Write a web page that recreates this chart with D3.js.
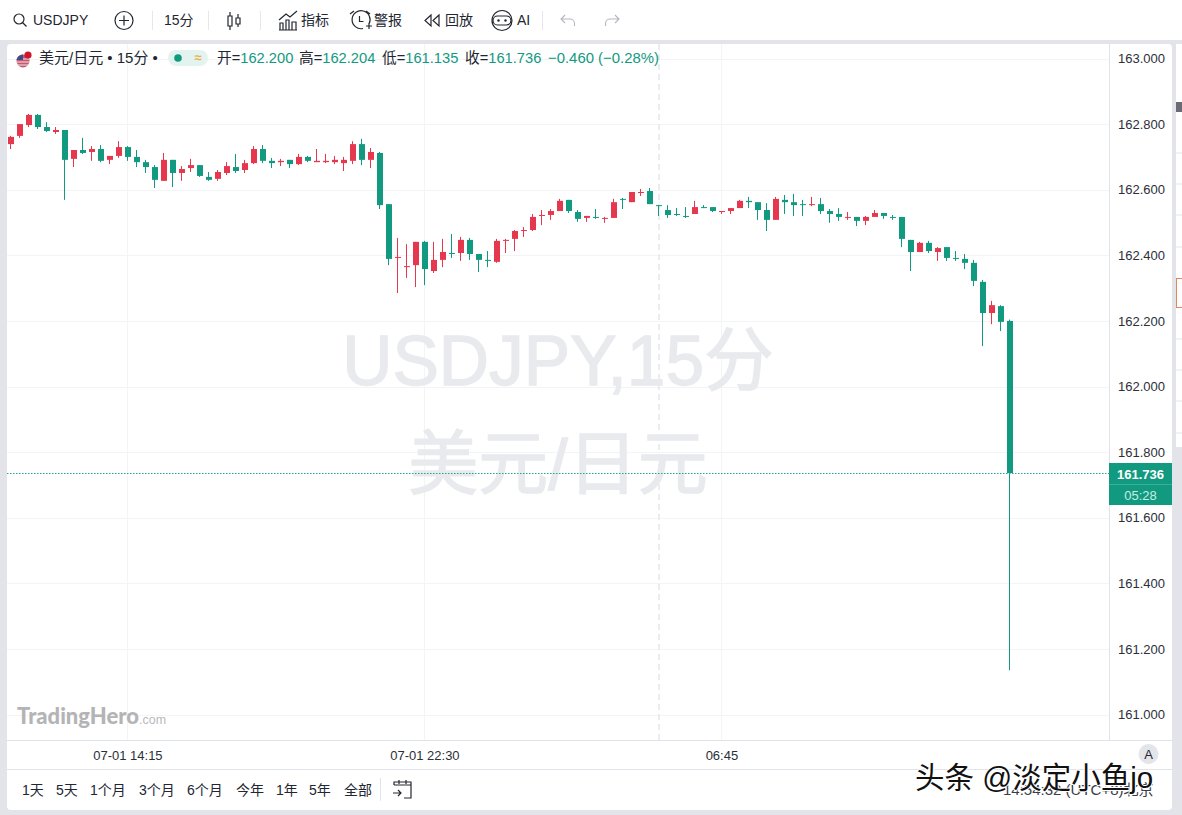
<!DOCTYPE html>
<html lang="zh">
<head>
<meta charset="utf-8">
<title>USDJPY 15分</title>
<script src="https://cdn.jsdelivr.net/npm/d3@7/dist/d3.min.js"></script>
<style>
  html, body { margin: 0; padding: 0; background: #e3e4e9; overflow: hidden; }
  svg { display: block; font-family: "Liberation Sans", "Noto Sans CJK SC", sans-serif; }
</style>
</head>
<body>
<svg id="chart" width="1182" height="815"></svg>
<script>
// 15-minute USD/JPY candles, oldest first
const opens = [162.739,162.764,162.797,162.828,162.791,162.776,162.782,162.694,162.721,162.715,162.724,162.691,162.703,162.730,162.700,162.684,162.669,162.627,162.691,162.651,162.666,162.675,162.639,162.633,162.651,162.669,162.660,162.681,162.724,162.688,162.684,162.691,162.678,162.700,162.684,162.684,162.684,162.681,162.688,162.739,162.691,162.712,162.556,162.392,162.364,162.370,162.441,162.352,162.386,162.407,162.407,162.447,162.404,162.386,162.380,162.444,162.450,162.474,162.477,162.520,162.523,162.535,162.569,162.532,162.514,162.517,162.511,162.514,162.572,162.562,162.590,162.596,162.553,162.538,162.526,162.520,162.526,162.547,162.547,162.532,162.535,162.544,162.566,162.562,162.538,162.508,162.569,162.562,162.556,162.553,162.556,162.535,162.526,162.514,162.517,162.505,162.517,162.529,162.517,162.517,162.447,162.410,162.438,162.410,162.425,162.392,162.389,162.377,162.319,162.224,162.245,162.200];
const highs = [162.764,162.800,162.831,162.831,162.806,162.791,162.782,162.721,162.758,162.733,162.736,162.703,162.748,162.733,162.721,162.691,162.675,162.712,162.691,162.672,162.694,162.675,162.654,162.660,162.684,162.709,162.691,162.733,162.736,162.697,162.694,162.691,162.709,162.703,162.724,162.709,162.703,162.700,162.748,162.755,162.727,162.715,162.556,162.453,162.434,162.441,162.444,162.441,162.450,162.465,162.456,162.453,162.404,162.413,162.450,162.450,162.477,162.486,162.526,162.538,162.541,162.572,162.569,162.538,162.520,162.541,162.517,162.572,162.575,162.593,162.602,162.605,162.553,162.553,162.544,162.547,162.566,162.553,162.547,162.535,162.544,162.569,162.578,162.562,162.559,162.578,162.584,162.587,162.569,162.578,162.575,162.541,162.544,162.532,162.517,162.520,162.538,162.529,162.523,162.517,162.447,162.441,162.444,162.425,162.425,162.413,162.404,162.386,162.325,162.261,162.248,162.204];
const lows = [162.724,162.758,162.791,162.785,162.776,162.770,162.569,162.669,162.709,162.688,162.684,162.678,162.697,162.688,162.669,162.651,162.605,162.627,162.608,162.627,162.654,162.639,162.627,162.627,162.645,162.651,162.651,162.678,162.681,162.666,162.672,162.666,162.675,162.684,162.684,162.681,162.678,162.657,162.678,162.675,162.666,162.541,162.370,162.285,162.331,162.303,162.309,162.346,162.364,162.392,162.383,162.386,162.349,162.364,162.377,162.407,162.413,162.456,162.474,162.492,162.508,162.535,162.529,162.502,162.502,162.511,162.499,162.514,162.541,162.562,162.581,162.556,162.520,162.514,162.520,162.514,162.526,162.544,162.532,162.526,162.526,162.544,162.544,162.508,162.474,162.508,162.526,162.520,162.520,162.550,162.526,162.499,162.505,162.508,162.489,162.492,162.517,162.511,162.508,162.425,162.352,162.410,162.407,162.383,162.383,162.383,162.358,162.306,162.123,162.190,162.169,161.135];
const closes = [162.761,162.800,162.828,162.791,162.779,162.782,162.691,162.721,162.712,162.724,162.688,162.703,162.730,162.700,162.684,162.669,162.630,162.691,162.651,162.663,162.675,162.642,162.630,162.654,162.672,162.657,162.681,162.724,162.688,162.681,162.688,162.678,162.700,162.688,162.688,162.688,162.691,162.691,162.739,162.691,162.715,162.553,162.389,162.395,162.367,162.441,162.358,162.386,162.410,162.404,162.447,162.404,162.386,162.383,162.444,162.447,162.474,162.477,162.517,162.523,162.535,162.566,162.535,162.511,162.520,162.514,162.514,162.562,162.569,162.593,162.593,162.556,162.550,162.523,162.523,162.517,162.547,162.544,162.535,162.535,162.544,162.566,162.562,162.538,162.508,162.572,162.562,162.553,162.553,162.556,162.535,162.526,162.517,162.517,162.505,162.517,162.529,162.520,162.514,162.450,162.410,162.438,162.413,162.422,162.392,162.389,162.377,162.322,162.224,162.248,162.197,161.736];

const priceTicks = [163, 162.8, 162.6, 162.4, 162.2, 162, 161.8, 161.6, 161.4, 161.2, 161];
const timeTickBars = [13, 46, 79];
const timeTickLabels = ["07-01 14:15", "07-01 22:30", "06:45"];
const rangeLabels = ["1天", "5天", "1个月", "3个月", "6个月", "今年", "1年", "5年", "全部"];
const rangeOffsets = [22, 56, 90, 139, 187, 236, 276, 309, 344];
const crosshairBar = 72;
const lastChange = -0.460;
const lastChangePct = -0.28;
const countdown = "05:28";

const UP = "#e5384f", DOWN = "#129a80", INK = "#222630", GRID = "#f3f4f6", RULE = "#e0e3ea";

const svg = d3.select("#chart");
const y = d3.scaleLinear().domain([163, 161]).range([58.5, 714.5]);
const x = d3.scaleLinear().domain([0, 111]).range([10.4, 1009.4]);
const pane = { left: 7, right: 1109, top: 44, bottom: 740 };

// Shell: toolbar, chart card and the clipped neighbouring panel
svg.append("rect").attr("width", 1182).attr("height", 815).attr("fill", "#e3e4e9");
svg.append("rect").attr("width", 1182).attr("height", 40).attr("fill", "#fff");
svg.append("rect").attr("x", 7).attr("y", 44).attr("width", 1165).attr("height", 766).attr("rx", 4).attr("fill", "#fff");
svg.append("rect").attr("x", 1176).attr("y", 44).attr("width", 6).attr("height", 403).attr("fill", "#fff");

const side = svg.append("g");
side.append("rect").attr("x", 1176).attr("y", 102).attr("width", 6).attr("height", 10).attr("fill", "#6a6b75");
[153, 184, 215, 247, 339, 370, 401, 433].forEach(v =>
  side.append("line").attr("x1", 1176).attr("x2", 1182).attr("y1", v).attr("y2", v).attr("stroke", "#e3e5ea"));
side.append("rect").attr("x", 1176.5).attr("y", 278.5).attr("width", 8).attr("height", 29)
  .attr("fill", "none").attr("stroke", "#e0855c");

// Gridlines
const grid = svg.append("g");
grid.selectAll("line.h").data(priceTicks).join("line").attr("class", "h")
  .attr("x1", pane.left).attr("x2", pane.right)
  .attr("y1", d => Math.round(y(d)) + 0.5).attr("y2", d => Math.round(y(d)) + 0.5)
  .attr("stroke", GRID);
grid.selectAll("line.v").data(timeTickBars).join("line").attr("class", "v")
  .attr("x1", d => Math.round(x(d)) + 0.5).attr("x2", d => Math.round(x(d)) + 0.5)
  .attr("y1", pane.top).attr("y2", pane.bottom)
  .attr("stroke", GRID);
grid.append("line")
  .attr("x1", Math.round(x(crosshairBar)) + 1).attr("x2", Math.round(x(crosshairBar)) + 1)
  .attr("y1", pane.top).attr("y2", pane.bottom)
  .attr("stroke", "#ebecf0").attr("stroke-width", 2).attr("stroke-dasharray", "6 4");

// Symbol watermark
const wm = svg.append("g").attr("fill", "#e9eaee").attr("stroke", "#e9eaee").attr("stroke-width", 1.4).attr("text-anchor", "middle");
wm.append("text").attr("x", 558).attr("y", 385).attr("font-size", 69.5).text("USDJPY,15分");
wm.append("text").attr("x", 558).attr("y", 489).attr("font-size", 70).text("美元/日元");

// Candles, snapped to the pixel grid so wicks stay crisp
const bars = d3.range(opens.length).map(i => ({ i, o: opens[i], h: highs[i], l: lows[i], c: closes[i] }));
const colour = d => d.c >= d.o ? UP : DOWN;
const candles = svg.append("g");
candles.selectAll("line").data(bars).join("line")
  .attr("x1", d => Math.floor(x(d.i)) + 0.5).attr("x2", d => Math.floor(x(d.i)) + 0.5)
  .attr("y1", d => y(d.h)).attr("y2", d => y(d.l))
  .attr("stroke", colour).attr("stroke-width", 1);
candles.selectAll("rect").data(bars).join("rect")
  .attr("x", d => Math.floor(x(d.i)) - 2)
  .attr("y", d => y(Math.max(d.o, d.c)))
  .attr("width", 6)
  .attr("height", d => Math.max(1, Math.abs(y(d.o) - y(d.c))))
  .attr("fill", colour);

// Last price line
const last = bars[bars.length - 1];
svg.append("line")
  .attr("x1", pane.left).attr("x2", pane.right)
  .attr("y1", Math.round(y(last.c)) + 0.5).attr("y2", Math.round(y(last.c)) + 0.5)
  .attr("stroke", "#1fa58b").attr("stroke-dasharray", "1.5 1.5");

// Axes
svg.append("line").attr("x1", pane.right + 0.5).attr("x2", pane.right + 0.5)
  .attr("y1", pane.top).attr("y2", pane.bottom).attr("stroke", RULE);
svg.append("line").attr("x1", pane.left).attr("x2", 1172)
  .attr("y1", pane.bottom + 0.5).attr("y2", pane.bottom + 0.5).attr("stroke", RULE);
svg.append("line").attr("x1", pane.left).attr("x2", 1172)
  .attr("y1", 769.5).attr("y2", 769.5).attr("stroke", RULE);

const priceAxis = d3.axisRight(y).tickValues(priceTicks).tickSize(0).tickPadding(9).tickFormat(d3.format(".3f"));
svg.append("g").attr("transform", `translate(${pane.right},0)`).call(priceAxis)
  .call(g => g.select(".domain").remove())
  .call(g => g.selectAll("text").attr("font-size", 13).attr("font-family", "inherit").attr("fill", "#2b2f38"));

const timeAxis = d3.axisBottom(x).tickValues(timeTickBars).tickSize(0).tickPadding(11)
  .tickFormat(d => timeTickLabels[timeTickBars.indexOf(d)]);
svg.append("g").attr("transform", `translate(0,${pane.bottom})`).call(timeAxis)
  .call(g => g.select(".domain").remove())
  .call(g => g.selectAll("text").attr("font-size", 13).attr("font-family", "inherit").attr("fill", "#2b2f38"));

// Countdown tag on the price scale
const tag = svg.append("g");
tag.append("rect").attr("x", 1109).attr("y", 463).attr("width", 63).attr("height", 42).attr("fill", DOWN);
tag.append("line").attr("x1", 1109).attr("x2", 1172).attr("y1", 484.5).attr("y2", 484.5).attr("stroke", "#3aae97");
tag.append("text").attr("x", 1140.5).attr("y", 478.5).attr("text-anchor", "middle")
  .attr("font-size", 13).attr("font-weight", 700).attr("fill", "#fff").text(last.c.toFixed(3));
tag.append("text").attr("x", 1140.5).attr("y", 499.5).attr("text-anchor", "middle")
  .attr("font-size", 13).attr("fill", "#c4ede4").text(countdown);

// Legend row
const flag = svg.append("g");
flag.append("circle").attr("cx", 23).attr("cy", 61).attr("r", 6.5).attr("fill", "#c9566a");
flag.append("path").attr("d", "M17 59h12M16.5 62h13M18 65h10").attr("stroke", "#e9e9f0").attr("stroke-width", 1);
flag.append("path").attr("d", "M16.5 60a6.5 6.5 0 0 1 6.5-5.500v5.500z").attr("fill", "#3f4a8c");
flag.append("circle").attr("cx", 28).attr("cy", 55).attr("r", 3.6).attr("fill", "#d0142c");

const legendY = 63;
svg.append("text").attr("x", 39).attr("y", legendY).attr("font-size", 15).attr("fill", INK).text("美元/日元 • 15分 •");
svg.append("rect").attr("x", 168).attr("y", 50).attr("width", 40).attr("height", 16).attr("rx", 8).attr("fill", "#e3f4f0");
svg.append("circle").attr("cx", 178).attr("cy", 58).attr("r", 3.8).attr("fill", DOWN);
svg.append("text").attr("x", 198).attr("y", 62).attr("text-anchor", "middle").attr("font-size", 13)
  .attr("font-weight", 700).attr("fill", "#e8b04a").text("≈");

const ohlcLegend = [
  ["开=", last.o, 217], ["高=", last.h, 299], ["低=", last.l, 382], ["收=", last.c, 465]
];
ohlcLegend.forEach(([label, value, left]) => {
  const t = svg.append("text").attr("x", left).attr("y", legendY).attr("font-size", 14.7);
  t.append("tspan").attr("fill", INK).text(label);
  t.append("tspan").attr("fill", DOWN).text(value.toFixed(3));
});
svg.append("text").attr("x", 548).attr("y", legendY).attr("font-size", 14.9).attr("fill", DOWN)
  .text(`−${Math.abs(lastChange).toFixed(3)} (−${Math.abs(lastChangePct).toFixed(2)}%)`);

// Toolbar
const bar = svg.append("g").attr("fill", INK).attr("font-size", 14);
const stroke = { fill: "none", stroke: INK, "stroke-width": 1.2 };
const ink = sel => { Object.entries(stroke).forEach(([k, v]) => sel.attr(k, v)); return sel; };
ink(bar.append("circle").attr("cx", 19).attr("cy", 19).attr("r", 5));
ink(bar.append("path").attr("d", "M22.500 22.500l4 4"));
bar.append("text").attr("x", 33).attr("y", 25).text("USDJPY");
ink(bar.append("circle").attr("cx", 124).attr("cy", 20.500).attr("r", 9));
ink(bar.append("path").attr("d", "M124 15.500v10M119 20.500h10"));
[152, 208, 260, 542].forEach(v =>
  bar.append("line").attr("x1", v + 0.5).attr("x2", v + 0.5).attr("y1", 11).attr("y2", 30).attr("stroke", "#e6e7ec"));
bar.append("text").attr("x", 164).attr("y", 25).text("15分");
ink(bar.append("path").attr("d", "M228 16h4v10h-4zM230 12v4M230 26v4M236 18h4v6h-4zM238 14v4M238 24v3"));
ink(bar.append("path").attr("d", "M279 30h18M280 30v-7h3v7M286 30v-10h3v10M292 30v-8h4v8M279 20l7-6 4 3 7-6"));
bar.append("text").attr("x", 301).attr("y", 25).text("指标");
ink(bar.append("path").attr("d", "M369 24a9 9 0 1 0-6 4.500M359.500 16v5.500h4M350 14l4-3M366 11l4 3M366 26h6M369 23v6"));
bar.append("text").attr("x", 374).attr("y", 25).text("警报");
ink(bar.append("path").attr("d", "M431 15l-6 5.500 6 5.500zM439 15l-6 5.500 6 5.500z"));
bar.append("text").attr("x", 445).attr("y", 25).text("回放");
ink(bar.append("circle").attr("cx", 502).attr("cy", 20.500).attr("r", 10));
ink(bar.append("rect").attr("x", 493).attr("y", 16).attr("width", 18).attr("height", 9).attr("rx", 4.500));
bar.append("circle").attr("cx", 498.500).attr("cy", 20.500).attr("r", 1.200);
bar.append("circle").attr("cx", 505.500).attr("cy", 20.500).attr("r", 1.200);
bar.append("text").attr("x", 517).attr("y", 25).text("AI");
bar.append("path").attr("d", "M565 15l-4 4 4 4M561 19h9a4.500 4.500 0 0 1 4.500 4.500v2.500")
  .attr("fill", "none").attr("stroke", "#b5b7bf").attr("stroke-width", 1.100);
bar.append("path").attr("d", "M615 15l4 4-4 4M619 19h-9a4.500 4.500 0 0 0-4.500 4.500v2.500")
  .attr("fill", "none").attr("stroke", "#b5b7bf").attr("stroke-width", 1.100);

// Provider logo
const logo = svg.append("text").attr("x", 17).attr("y", 724);
logo.append("tspan").attr("font-family", "Lato, sans-serif").attr("font-size", 22).attr("font-weight", 900).attr("fill", "#b4b4b6").text("TradingHero");
logo.append("tspan").attr("font-size", 12.5).attr("fill", "#b9b9bc").text(".com");

// Range buttons
svg.append("g").selectAll("text").data(rangeLabels).join("text")
  .attr("x", (d, i) => rangeOffsets[i]).attr("y", 795)
  .attr("font-size", 14).attr("fill", INK).text(d => d);
svg.append("line").attr("x1", 380.500).attr("x2", 380.500).attr("y1", 778).attr("y2", 801).attr("stroke", "#e3e5ea");
svg.append("path").attr("d", "M394 785v-3h17v16h-7M394 785h17M399 780v4M406 780v4M393 793h8M398 790l3 3-3 3")
  .attr("fill", "none").attr("stroke", INK).attr("stroke-width", 1.200);

// Auto-scale button
svg.append("circle").attr("cx", 1148.5).attr("cy", 754).attr("r", 10).attr("fill", "#e3e5ea");
svg.append("text").attr("x", 1148.5).attr("y", 758.5).attr("text-anchor", "middle").attr("font-size", 13).attr("fill", INK).text("A");

// Clock, with the author's signature stamped over it
svg.append("text").attr("x", 1003).attr("y", 795).attr("font-size", 15).attr("fill", "#3a3d46").text("14:54:32 (UTC+8)北京");
svg.append("text").attr("x", 915).attr("y", 788).attr("font-size", 29.5)
  .attr("fill", "#111").attr("stroke", "#fff").attr("stroke-width", 2).attr("paint-order", "stroke")
  .text("头条 @淡定小鱼jo");
</script>
</body>
</html>
